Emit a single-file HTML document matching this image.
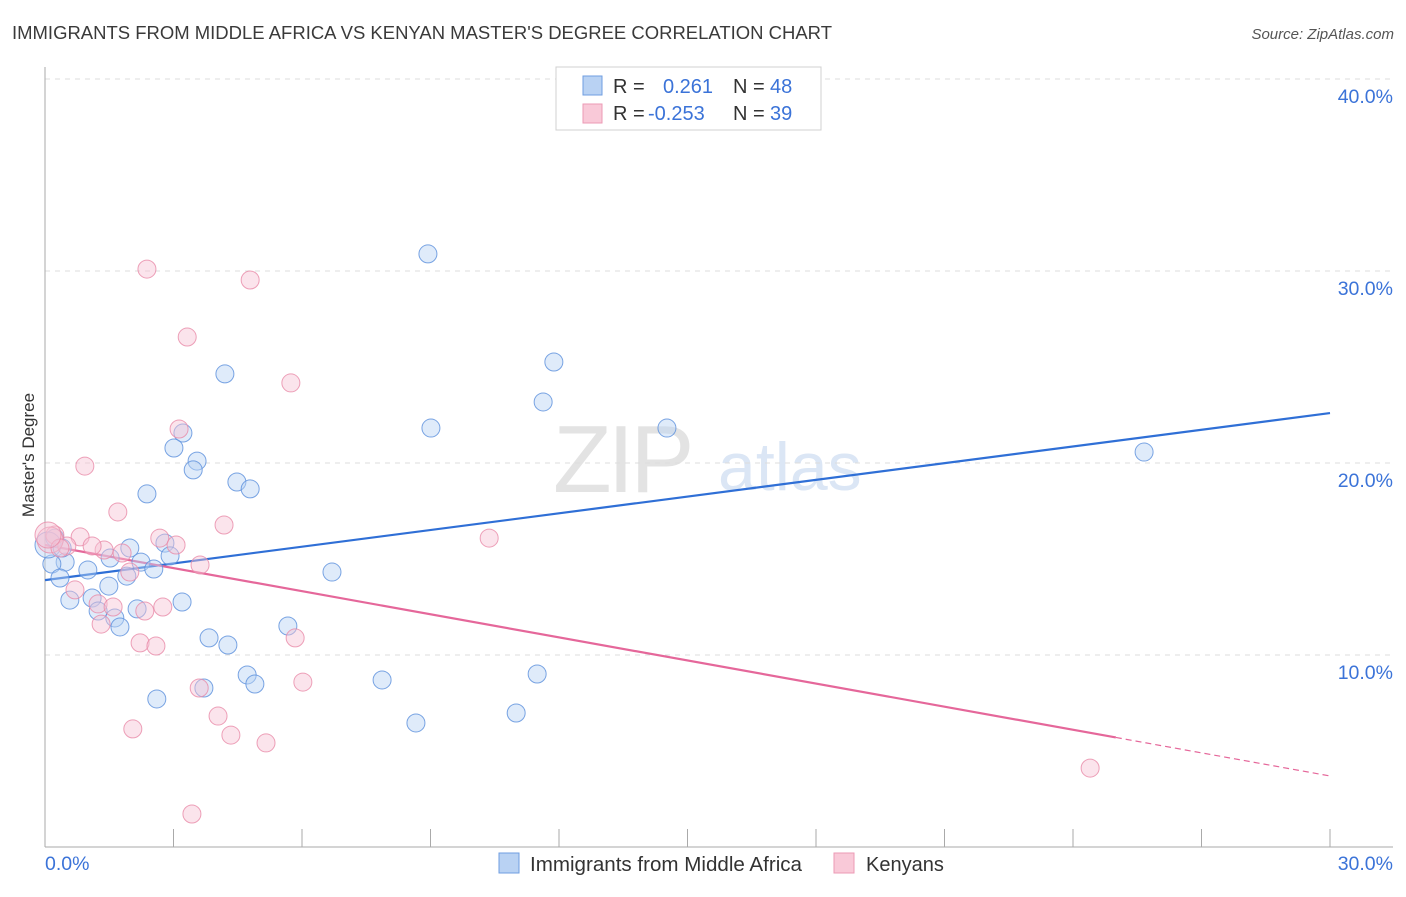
<!DOCTYPE html>
<html><head><meta charset="utf-8"><style>
body{margin:0;background:#fff;font-family:"Liberation Sans",sans-serif;}
svg text{font-family:"Liberation Sans",sans-serif;}
</style></head><body>
<svg width="1406" height="892" xmlns="http://www.w3.org/2000/svg" id="chart">
<text x="12" y="39" font-size="18" fill="#3a3a3a" textLength="820" lengthAdjust="spacingAndGlyphs">IMMIGRANTS FROM MIDDLE AFRICA VS KENYAN MASTER'S DEGREE CORRELATION CHART</text>
<text x="1394" y="39" font-size="15" fill="#555" text-anchor="end" font-style="italic">Source: ZipAtlas.com</text>
<g>
<text x="553" y="492" font-size="96" fill="#e3e3e3" font-family="Liberation Serif, serif" letter-spacing="-4">ZIP</text>
<text x="718" y="490" font-size="68" fill="#dbe6f5">atlas</text>
</g>
<g id="grid"></g>
<g id="axes"></g>
<g id="lines"></g>
<g id="pts"></g>
<text transform="translate(34,455) rotate(-90)" font-size="17" fill="#333" text-anchor="middle">Master's Degree</text>
<g>
<rect x="556" y="67" width="265" height="63" fill="#fff" stroke="#d0d0d0"/>
<rect x="583" y="76" width="19" height="19" fill="#b9d2f3" stroke="#6f9ee0"/>
<rect x="583" y="104" width="19" height="19" fill="#f9c9d8" stroke="#ec9ab5"/>
<text x="613" y="93" font-size="20" fill="#333">R =</text>
<text x="663" y="93" font-size="20" fill="#3b73d8">0.261</text>
<text x="733" y="93" font-size="20" fill="#333">N =</text>
<text x="770" y="93" font-size="20" fill="#3b73d8">48</text>
<text x="613" y="120" font-size="20" fill="#333">R =</text>
<text x="648" y="120" font-size="20" fill="#3b73d8">-0.253</text>
<text x="733" y="120" font-size="20" fill="#333">N =</text>
<text x="770" y="120" font-size="20" fill="#3b73d8">39</text>
</g>
<g>
<rect x="499" y="853" width="20" height="20" fill="#b9d2f3" stroke="#6f9ee0"/>
<text x="530" y="871" font-size="20" fill="#333" textLength="272" lengthAdjust="spacingAndGlyphs">Immigrants from Middle Africa</text>
<rect x="834" y="853" width="20" height="20" fill="#f9c9d8" stroke="#ec9ab5"/>
<text x="866" y="871" font-size="20" fill="#333">Kenyans</text>
</g>
</svg>
<script>
const yTicks=[10,20,30,40];
const yTickLabels=["10.0%","20.0%","30.0%","40.0%"];
const xTickLabels=["0.0%","30.0%"];
const blueX=[8.94,11.88,11.63,9.01,14.52,25.66,4.20,3.22,3.01,3.55,3.46,4.48,4.79,2.38,2.80,1.98,2.92,2.24,2.54,1.52,1.00,0.47,0.16,0.35,1.91,1.49,0.58,1.10,1.24,1.63,1.75,2.15,3.20,6.70,5.67,3.83,4.27,4.72,4.90,3.71,7.87,11.49,2.61,8.66,11.00,0.23,0.07,0.40];
const blueY=[30.89,25.26,23.18,21.82,21.82,20.57,24.64,21.56,20.78,20.10,19.64,19.01,18.65,18.39,15.83,15.57,15.16,14.84,14.48,15.05,14.43,14.84,14.74,14.01,14.11,13.59,12.86,12.97,12.29,11.93,11.46,12.40,12.76,14.32,11.51,10.89,10.52,8.96,8.49,8.28,8.70,9.01,7.71,6.46,6.98,16.09,15.73,15.57];
const pinkX=[2.38,4.79,3.32,5.74,3.13,0.93,1.70,4.18,10.37,2.68,3.06,0.82,1.38,1.80,1.10,0.51,0.23,0.12,0.35,1.98,3.62,0.70,1.24,1.59,2.33,2.75,1.31,2.22,2.59,5.84,3.60,6.02,4.04,2.05,4.34,5.16,3.43,24.40,0.07];
const pinkY=[30.10,29.53,26.56,24.17,21.77,19.84,17.45,16.77,16.09,16.09,15.73,16.15,15.47,15.31,15.68,15.68,16.25,15.99,15.57,14.32,14.69,13.39,12.66,12.50,12.29,12.50,11.61,10.63,10.47,10.89,8.28,8.59,6.82,6.15,5.83,5.42,1.72,4.11,16.25];
const blueTrend=[13.9,22.6];
const pinkTrend=[15.73,3.7];
const pinkSolidEnd=25.0;
const X=v=>45+v/30*1285, Y=v=>847-v*19.2;
const NS="http://www.w3.org/2000/svg";
function mk(tag,attrs,parent){const e=document.createElementNS(NS,tag);for(const k in attrs)e.setAttribute(k,attrs[k]);document.getElementById(parent).appendChild(e);return e;}
yTicks.forEach((t,i)=>{
 const g=mk('line',{x1:45,x2:1393,y1:Y(t),y2:Y(t),stroke:'#dcdcdc','stroke-dasharray':'5,5'},'grid');
 
 
 const tx=mk('text',{x:1393,y:Y(t)+24,'font-size':19.5,fill:'#3b73d8','text-anchor':'end'},'grid');
 tx.textContent=yTickLabels[i];
 
 
});
const ax=mk('line',{x1:45,x2:45,y1:67,y2:847,stroke:'#aaa'},'axes');


const bx=mk('line',{x1:45,x2:1393,y1:847,y2:847,stroke:'#aaa'},'axes');


for(let k=0;k<=10;k++){const t=mk('line',{x1:X(k*3),x2:X(k*3),y1:829,y2:847,stroke:'#aaa'},'axes');
 
 }
[[0,'start',45],[30,'end',1393]].forEach((p,i)=>{const t=mk('text',{x:p[2],y:870,'font-size':19.5,fill:'#3b73d8','text-anchor':p[1]},'axes');t.textContent=xTickLabels[i];
 
 });
function dots(xs,ys,fill,stroke,name){xs.forEach((x,i)=>{const big=(x<0.2&&ys[i]>15.5);const c=mk('circle',{cx:X(x),cy:Y(ys[i]),r:big?13:9,fill:fill,'fill-opacity':0.45,stroke:stroke,'stroke-opacity':0.8,'stroke-width':1},'pts');
 
 });}
dots(blueX,blueY,'#b9d2f3','#5a8fdc','point-africa');
dots(pinkX,pinkY,'#f7c3d4','#e889a8','point-kenyans');
const bl=mk('line',{x1:X(0),y1:Y(blueTrend[0]),x2:X(30),y2:Y(blueTrend[1]),stroke:'#2f6fd6','stroke-width':2.2},'lines');


const py=x=>pinkTrend[0]+(pinkTrend[1]-pinkTrend[0])*x/30;
const pl=mk('line',{x1:X(0),y1:Y(pinkTrend[0]),x2:X(pinkSolidEnd),y2:Y(py(pinkSolidEnd)),stroke:'#e5679a','stroke-width':2.2},'lines');


const pd=mk('line',{x1:X(pinkSolidEnd),y1:Y(py(pinkSolidEnd)),x2:X(30),y2:Y(pinkTrend[1]),stroke:'#e5679a','stroke-width':1.2,'stroke-dasharray':'6,4'},'lines');


</script>
</body></html>
